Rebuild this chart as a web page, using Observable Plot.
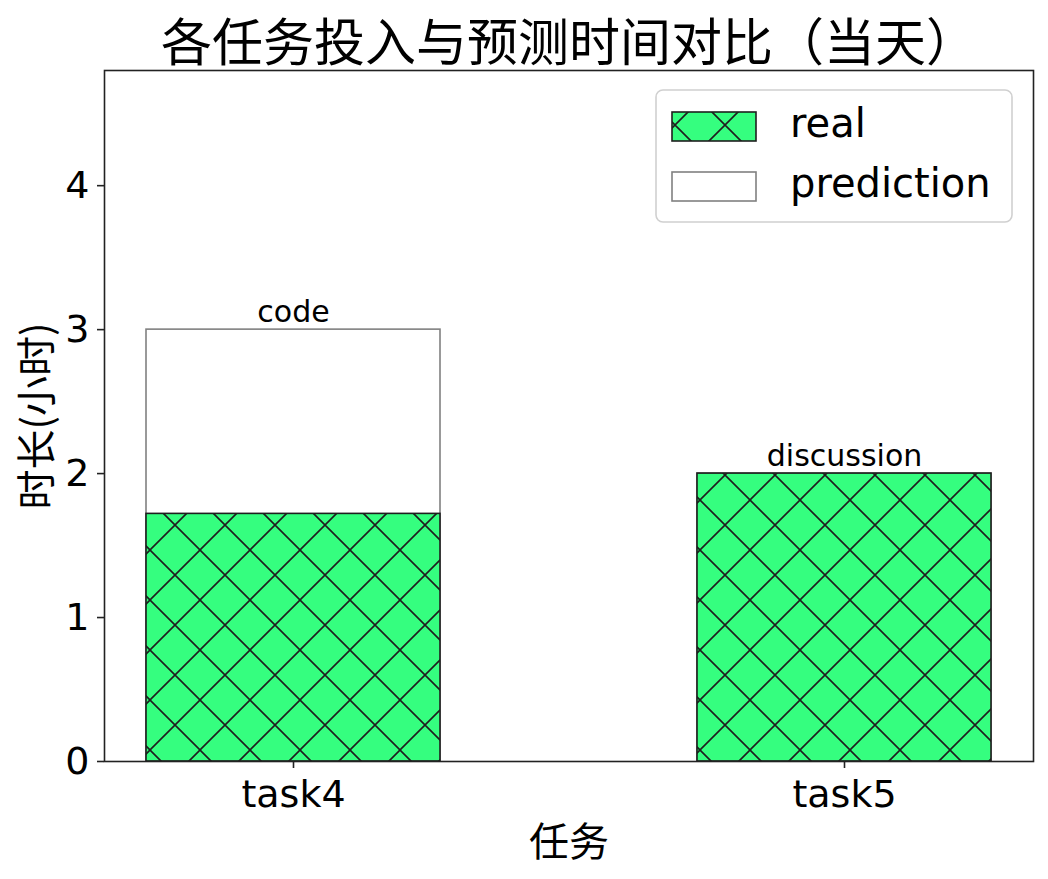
<!DOCTYPE html>
<html>
<head>
<meta charset="utf-8">
<script src="https://cdn.jsdelivr.net/npm/d3@7"></script>
<script src="https://cdn.jsdelivr.net/npm/@observablehq/plot@0.6"></script>
<style>
  html, body { margin: 0; padding: 0; background: #fff; }
</style>
</head>
<body>
<div id="chart"></div>
<script>
// ---- data ----
const tasks = ["task4", "task5"];
const realHours = [1.72, 2.0];
const predictedHours = [3.0, 2.0];
const taskNames = ["code", "discussion"];
const yTicks = [0, 1, 2, 3, 4];
const titleText = "各任务投入与预测时间对比（当天）";
const xLabel = "任务";
const yLabel = "时长(小时)";
const legendLabels = ["real", "prediction"];

const rows = tasks.map((t, i) => ({
  task: t, real: realHours[i], pred: predictedHours[i], name: taskNames[i],
  top: Math.max(realHours[i], predictedHours[i])
}));

const GREEN = "#35fe7f";
const EDGE = "#1e1e1e";
const LATIN = "'DejaVu Sans', 'Noto Sans CJK SC', sans-serif";
const CJK = "'Noto Sans CJK SC', sans-serif";

const svg = Plot.plot({
  width: 1048,
  height: 879,
  marginTop: 70,
  marginBottom: 118,
  marginLeft: 104,
  marginRight: 15,
  style: { fontFamily: LATIN, fontSize: "37px", background: "#fff", color: "#000" },
  x: { type: "band", domain: tasks, paddingInner: 0.466, paddingOuter: 0.076, align: 0.5 },
  y: { domain: [0, 4.8] },
  marks: [
    Plot.barY(rows, { x: "task", y: "pred", fill: "#fff", stroke: "#808080", strokeWidth: 1.6 }),
    Plot.barY(rows, { x: "task", y: "real", fill: "url(#hatchX)", stroke: EDGE, strokeWidth: 1.6 }),
    Plot.text(rows, { x: "task", y: "top", text: "name", lineAnchor: "bottom", dy: -8, fontSize: 30, fill: "#000" }),
    Plot.frame({ stroke: "#222", strokeWidth: 1.6 }),
    Plot.axisY({ ticks: yTicks, tickFormat: d3.format("d"), tickSize: 7, tickPadding: 8, label: null, fontSize: 38, stroke: "#222", strokeWidth: 1.6 }),
    Plot.axisX({ tickSize: 7, tickPadding: 12, label: null, fontSize: 38, stroke: "#222", strokeWidth: 1.6 }),
    Plot.text([titleText], { frameAnchor: "top", dy: -26, lineAnchor: "middle", fontSize: 51, fontFamily: CJK, fill: "#000", text: d => d }),
    Plot.text([xLabel], { frameAnchor: "bottom", dy: 82, lineAnchor: "middle", fontSize: 40, fontFamily: CJK, fill: "#000", text: d => d }),
    Plot.text([yLabel], { frameAnchor: "left", dx: -66, rotate: -90, lineAnchor: "middle", textAnchor: "middle", fontSize: 40, fontFamily: CJK, fill: "#000", text: d => d })
  ]
});

// hatch pattern definition
const s = d3.select(svg);
const defs = s.insert("defs", ":first-child");
const pat = defs.append("pattern")
  .attr("id", "hatchX")
  .attr("patternUnits", "userSpaceOnUse")
  .attr("x", 0).attr("y", 0)
  .attr("width", 50).attr("height", 50);
pat.append("rect").attr("width", 50).attr("height", 50).attr("fill", GREEN);
pat.append("path")
  .attr("d", "M-10,-10L60,60 M-10,40L10,60 M40,-10L60,10 M60,-10L-10,60 M-10,10L10,-10 M40,60L60,40")
  .attr("stroke", EDGE).attr("stroke-width", 1.6).attr("fill", "none");

// legend
const lg = s.append("g").attr("class", "legend").attr("text-anchor", "start");
lg.append("rect").attr("x", 656).attr("y", 90).attr("width", 356).attr("height", 132)
  .attr("rx", 7).attr("fill", "#fff").attr("fill-opacity", 0.8).attr("stroke", "#d0d0d0").attr("stroke-width", 1.6);
const items = [
  { label: legendLabels[0], fill: "url(#hatchX)", stroke: EDGE },
  { label: legendLabels[1], fill: "#fff", stroke: "#808080" }
];
items.forEach((it, i) => {
  const y0 = 112 + i * 60;
  lg.append("rect").attr("x", 672).attr("y", y0).attr("width", 84).attr("height", 29)
    .attr("fill", it.fill).attr("stroke", it.stroke).attr("stroke-width", 1.6);
  lg.append("text").attr("x", 790).attr("y", y0 + 25).attr("text-anchor", "start")
    .attr("font-family", LATIN).attr("font-size", 40).attr("fill", "#000").text(it.label);
});

document.getElementById("chart").appendChild(svg);
</script>
</body>
</html>
